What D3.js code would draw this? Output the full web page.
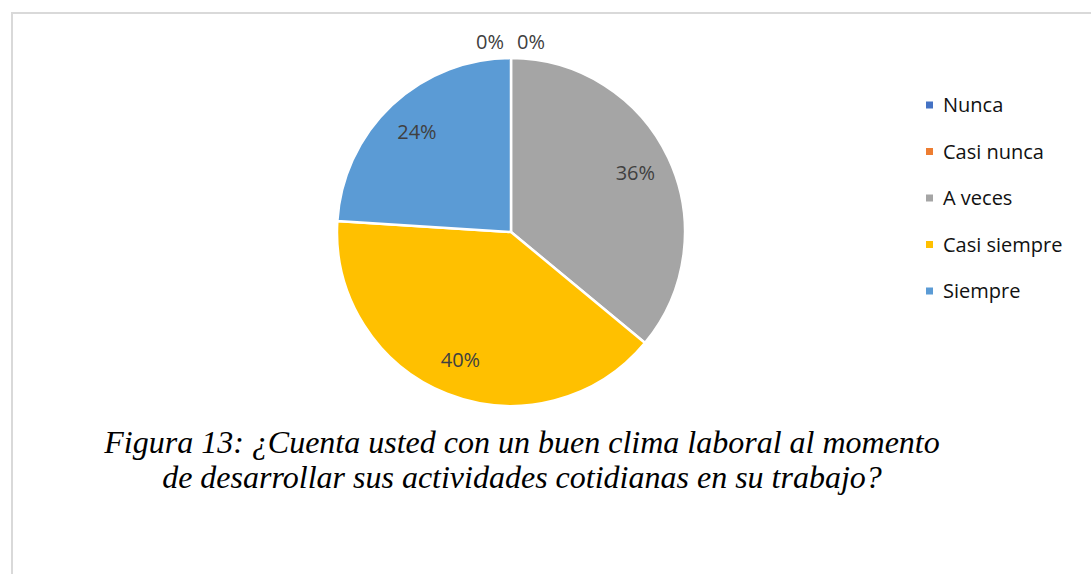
<!DOCTYPE html>
<html>
<head>
<meta charset="utf-8">
<script src="https://cdn.jsdelivr.net/npm/d3@7"></script>
<style>
  body { margin: 0; background: #fff; }
</style>
</head>
<body>
<svg id="chart"></svg>
<script>
// categories and values
const categories = ['Nunca', 'Casi nunca', 'A veces', 'Casi siempre', 'Siempre'];
const values = [0, 0, 36, 40, 24];
const colors = ['#4472c4', '#ed7d31', '#a5a5a5', '#ffc000', '#5b9bd5'];
const captionLines = [
  'Figura 13: ¿Cuenta usted con un buen clima laboral al momento',
  'de desarrollar sus actividades cotidianas en su trabajo?'
];

let width = 1091;
let height = 574;
let cx = 511, cy = 232, radius = 174;
let labelFont = '"Open Sans", sans-serif';

let svg = d3.select('#chart').attr('width', width).attr('height', height);

// frame of the chart area
svg.append('path')
  .attr('d', `M12,${height} L12,13 L${width},13`)
  .attr('fill', 'none')
  .attr('stroke', '#d9d9d9')
  .attr('stroke-width', 2);

let data = categories.map((c, i) => ({ name: c, value: values[i], color: colors[i] }));

let pie = d3.pie().sort(null).value((d) => d.value);
let arcs = pie(data);
let arc = d3.arc().innerRadius(0).outerRadius(radius);
let labelArc = d3.arc().innerRadius(radius * 0.79).outerRadius(radius * 0.79);

let g = svg.append('g').attr('transform', `translate(${cx},${cy})`);

g.selectAll('.slice')
  .data(arcs.filter((d) => d.data.value > 0))
  .enter()
  .append('path')
  .attr('class', 'slice')
  .attr('d', arc)
  .attr('fill', (d) => d.data.color)
  .attr('stroke', '#fff')
  .attr('stroke-width', 2.5);

// labels for the non-zero slices
g.selectAll('.lbl')
  .data(arcs.filter((d) => d.data.value > 0))
  .enter()
  .append('text')
  .attr('class', 'lbl')
  .attr('transform', (d) => `translate(${labelArc.centroid(d)})`)
  .attr('text-anchor', 'middle')
  .attr('dy', '0.35em')
  .style('font-family', labelFont)
  .style('font-size', '20px')
  .attr('fill', '#404040')
  .text((d) => d.data.value + '%');

// the two zero slices sit at the top, labels pushed outside
let zeros = arcs.filter((d) => d.data.value === 0);
g.selectAll('.zero')
  .data(zeros)
  .enter()
  .append('text')
  .attr('class', 'zero')
  .attr('x', (d, i) => (i === 0 ? -21 : 20))
  .attr('y', -radius - 16)
  .attr('text-anchor', 'middle')
  .attr('dy', '0.35em')
  .style('font-family', labelFont)
  .style('font-size', '20px')
  .attr('fill', '#404040')
  .text((d) => d.data.value + '%');

// legend
let legend = svg.append('g').attr('transform', 'translate(926,105)');
let rows = legend.selectAll('.row')
  .data(data)
  .enter()
  .append('g')
  .attr('class', 'row')
  .attr('transform', (d, i) => `translate(0,${i * 46.5})`);
rows.append('rect')
  .attr('x', 0).attr('y', -3.5)
  .attr('width', 7).attr('height', 7)
  .attr('fill', (d) => d.color);
rows.append('text')
  .attr('x', 17)
  .attr('dy', '0.35em')
  .style('font-family', labelFont)
  .style('font-size', '20px')
  .attr('fill', '#111')
  .text((d) => d.name);

// caption
svg.selectAll('.caption')
  .data(captionLines)
  .enter()
  .append('text')
  .attr('class', 'caption')
  .attr('x', 522)
  .attr('y', (d, i) => 453 + i * 35)
  .attr('text-anchor', 'middle')
  .style('font-family', '"Liberation Serif", "Times New Roman", serif')
  .style('font-style', 'italic')
  .style('font-size', '32px')
  .attr('fill', '#000')
  .text((d) => d);
</script>
</body>
</html>
